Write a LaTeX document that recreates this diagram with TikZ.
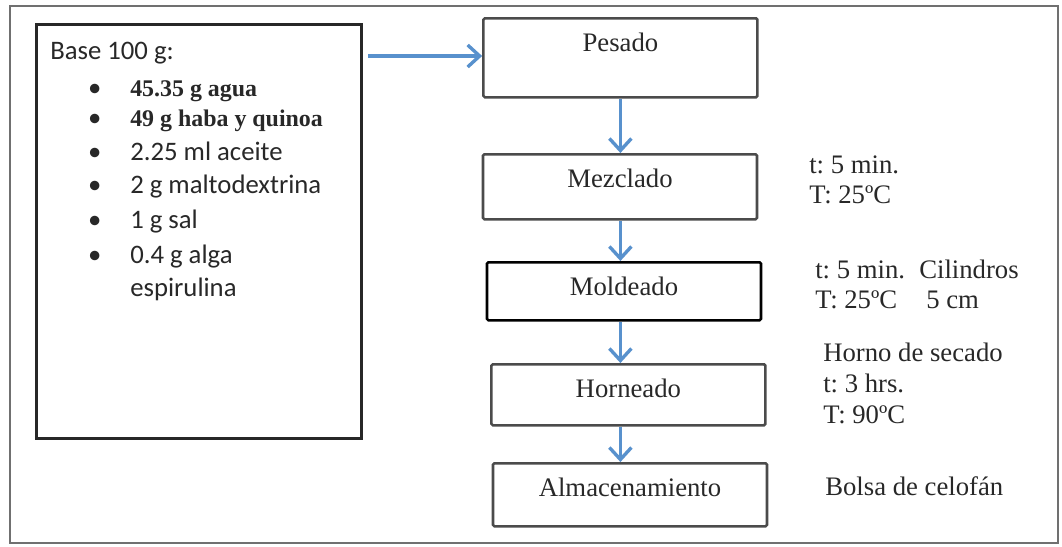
\documentclass[tikz,border=0pt]{standalone}
\usepackage{fontspec}
\setmainfont{Liberation Serif}
\newfontfamily\carlito{Carlito}
\usepackage{tikz}
\usetikzlibrary{arrows.meta, positioning}
\frenchspacing

\definecolor{flowblue}{RGB}{88,145,205}
\definecolor{framegray}{RGB}{112,112,112}
\definecolor{boxgray}{RGB}{75,75,75}
\definecolor{inkgray}{RGB}{40,40,40}
\newcommand{\ingfont}{\carlito\fontsize{19}{22}\selectfont}
\newcommand{\procfont}{\fontsize{19}{21.3}\selectfont}

\begin{document}
\begin{tikzpicture}[node distance=0.5cm and 0.5cm]
\tikzset{stepbox/.style={draw=boxgray, line width=1.8pt, rounded corners=1pt, minimum width=6.85cm, inner ysep=0pt, text height=0.825cm, anchor=north, font=\procfont, text=inkgray},
  flow/.style={draw=flowblue, line width=2.4pt, -{Straight Barb[length=3mm, width=5.5mm]}},
  info/.style={anchor=base west, align=left, inner sep=0pt, font=\procfont, text=inkgray},
  item/.style={anchor=base west, inner sep=0pt, text=inkgray}}
  \useasboundingbox (0,0) rectangle (26.55,-13.65);
  \draw[framegray, line width=1.4pt] (0.25,-0.15) rectangle (26.45,-13.575);

  \node [draw=inkgray, line width=2.2pt, minimum width=8.125cm, minimum height=10.35cm, anchor=north west, inner sep=0pt] (base) at (0.875,-0.575) {};
  \node [item, font=\ingfont] (title) at (1.25,-1.475) {Base 100 g:};
  \foreach \y/\txt [count=\c] in {-2.4/{\bfseries\fontsize{17}{20}\selectfont 45.35 g agua}, -3.15/{\bfseries\fontsize{17}{20}\selectfont 49 g haba y quinoa}, -4.0/{\ingfont 2.25 ml aceite}, -4.825/{\ingfont 2 g maltodextrina}, -5.7/{\ingfont 1 g sal}, -6.575/{\ingfont 0.4 g alga}} {
    \node [item] (ing\c) at (3.25,\y) {\llap{\ingfont\textbullet\hspace{0.72cm}}\txt};
  }
  \node [item, font=\ingfont] (ing7) at (3.25,-7.4) {espirulina};

  \node [stepbox, text depth=1.15cm] (pes) at (15.51,-0.425) {Pesado};
  \node [stepbox, text depth=0.8cm] (mez) at (15.5,-3.825) {Mezclado};
  \node [stepbox, draw=black, text depth=0.625cm] (mol) at (15.6,-6.525) {Moldeado};
  \node [stepbox, text depth=0.7cm] (hor) at (15.71,-9.075) {Horneado};
  \node [stepbox, text depth=0.75cm] (alm) at (15.75,-11.55) {Almacenamiento};

  \coordinate (feed) at (9.2,-1.4);
  \draw[flow] (feed) -- (feed -| pes.west);
  \draw[flow] (pes.south) -- (pes.south |- mez.north);
  \draw[flow] (mez.south -| pes.south) -- (pes.south |- mol.north);
  \draw[flow] (mol.south -| pes.south) -- (pes.south |- hor.north);
  \draw[flow] (hor.south -| pes.south) -- (pes.south |- alm.north);

  \node [info] (mezinfo) at (20.225,-5.075) {t: 5 min.\\T: 25ºC};
  \node [info] (molinfo) at (20.375,-7.7) {t: 5 min.\\T: 25ºC};
  \node [info] (molform) at (22.975,-7.7) {Cilindros\\\hspace{0.175cm}5 cm};
  \node [info, font=\fontsize{19}{21.7}\selectfont] (horinfo) at (20.575,-10.575) {Horno de secado\\t: 3 hrs.\\T: 90ºC};
  \node [info] (alminfo) at (20.625,-12.375) {Bolsa de celofán};
\end{tikzpicture}
\end{document}
